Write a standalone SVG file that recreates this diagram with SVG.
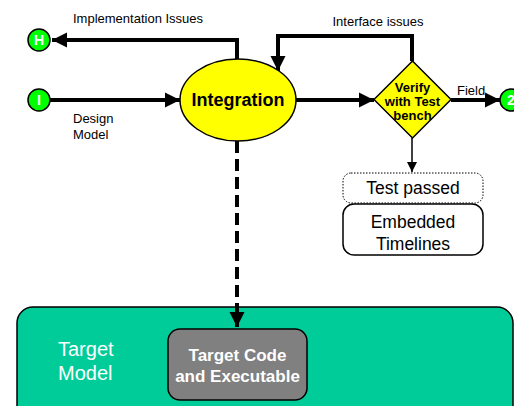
<svg xmlns="http://www.w3.org/2000/svg" width="514" height="406" viewBox="0 0 514 406">
<defs>
<style>
text{font-family:"Liberation Sans",Arial,sans-serif}
.lbl{font-size:13px;fill:#000}
.term{fill:#00ff00;stroke:#000;stroke-width:1.5}
.termt{font-size:14px;font-weight:bold;fill:#fff;text-anchor:middle}
.thick{fill:none;stroke:#000;stroke-width:4}
</style>
<marker id="ah" markerWidth="3.8" markerHeight="3.8" refX="3.8" refY="1.9" orient="auto" markerUnits="strokeWidth" viewBox="0 0 3.8 3.8">
<path d="M0,0 L3.8,1.9 L0,3.8 z" fill="#000"/>
</marker>
<marker id="ahs" markerWidth="10" markerHeight="10" refX="10" refY="5" orient="auto" markerUnits="userSpaceOnUse" viewBox="0 0 10 10">
<path d="M0,0 L10,5 L0,10 z" fill="#000"/>
</marker>
</defs>
<rect width="514" height="406" fill="#fff"/>
<g id="target-model">
<rect x="17" y="307" width="496" height="120" rx="16" fill="#00cc99" stroke="#000" stroke-width="1.5"/>
<text x="58" y="356" font-size="20" fill="#fff">Target</text>
<text x="58" y="380" font-size="20" fill="#fff">Model</text>
</g>
<g id="connectors">
<polyline class="thick" points="237,60 237,40 52,40" marker-end="url(#ah)"/>
<line class="thick" x1="50" y1="100" x2="180" y2="100" marker-end="url(#ah)"/>
<line class="thick" x1="296" y1="100" x2="374" y2="100" marker-end="url(#ah)"/>
<polyline class="thick" points="412,61 412,36 278,36 278,71" marker-end="url(#ah)"/>
<line class="thick" x1="451" y1="100" x2="500" y2="100" marker-end="url(#ah)"/>
<line x1="412" y1="138" x2="412" y2="172" stroke="#000" stroke-width="1.5" marker-end="url(#ahs)"/>
<line x1="237" y1="141" x2="237" y2="327" stroke="#000" stroke-width="4" stroke-dasharray="12,6" marker-end="url(#ah)"/>
<text class="lbl" x="73" y="23">Implementation Issues</text>
<text class="lbl" x="378" y="26" text-anchor="middle">Interface issues</text>
<text class="lbl" x="457" y="95">Field</text>
<text class="lbl" x="73" y="123">Design</text>
<text class="lbl" x="73" y="139">Model</text>
</g>
<g id="node-H">
<circle class="term" cx="39" cy="40" r="11"/>
<text class="termt" x="39" y="45">H</text>
</g>
<g id="node-I">
<circle class="term" cx="39" cy="100" r="11"/>
<text class="termt" x="39" y="105">I</text>
</g>
<g id="node-2">
<circle class="term" cx="511" cy="100" r="11"/>
<text class="termt" x="511" y="105">2</text>
</g>
<g id="integration">
<ellipse cx="238" cy="100" rx="58" ry="41" fill="#ffff00" stroke="#000" stroke-width="1.5"/>
<text x="238" y="106" font-size="18" font-weight="bold" text-anchor="middle">Integration</text>
</g>
<g id="verify">
<polygon points="412.5,61 451,99.5 412.5,138 374,99.5" fill="#ffff00" stroke="#000" stroke-width="1.5"/>
<text x="412.5" y="92" font-size="13" font-weight="bold" text-anchor="middle">Verify</text>
<text x="412.5" y="106" font-size="13" font-weight="bold" text-anchor="middle">with Test</text>
<text x="412.5" y="120" font-size="13" font-weight="bold" text-anchor="middle">bench</text>
</g>
<g id="test-passed">
<rect x="343" y="173" width="140" height="30" rx="8" fill="#fff" stroke="#000" stroke-width="1" stroke-dasharray="1.5,1.5"/>
<text x="413" y="194" font-size="17.5" text-anchor="middle">Test passed</text>
</g>
<g id="embedded-timelines">
<rect x="343" y="204" width="140" height="51" rx="11" fill="#fff" stroke="#000" stroke-width="1.5"/>
<text x="413" y="228" font-size="17.5" text-anchor="middle">Embedded</text>
<text x="413" y="250" font-size="17.5" text-anchor="middle">Timelines</text>
</g>
<g id="target-code">
<rect x="168" y="329" width="139" height="71" rx="12" fill="#808080" stroke="#000" stroke-width="1.5"/>
<text x="237.5" y="361" font-size="17" font-weight="bold" fill="#fff" text-anchor="middle">Target Code</text>
<text x="237.5" y="382" font-size="17" font-weight="bold" fill="#fff" text-anchor="middle">and Executable</text>
</g>
</svg>
